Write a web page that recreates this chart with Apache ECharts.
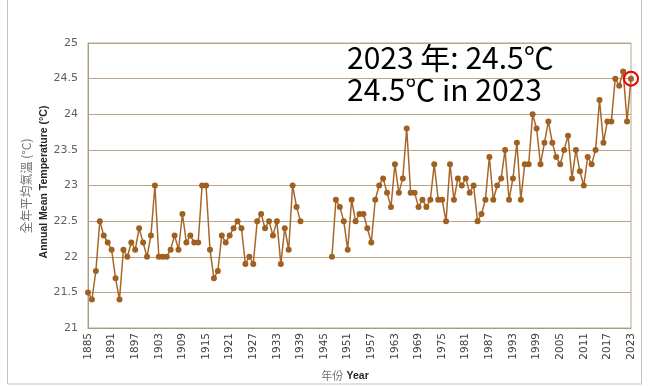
<!DOCTYPE html>
<html>
<head>
<meta charset="utf-8">
<script src="https://cdn.jsdelivr.net/npm/echarts@6/dist/echarts.min.js"></script>
<style>
  html, body { margin: 0; padding: 0; background: #fff; }
  #chart { width: 649px; height: 386px; }
</style>
</head>
<body>
<div id="chart"></div>
<script>
// Annual mean temperature, 1885–2023 (no records 1940–1946)
const years = [];
for (let y = 1885; y <= 2023; y++) years.push(String(y));

const temps1885to1939 = [
  21.5, 21.4, 21.8, 22.5, 22.3, 22.2, 22.1, 21.7, 21.4, 22.1,
  22.0, 22.2, 22.1, 22.4, 22.2, 22.0, 22.3, 23.0, 22.0, 22.0,
  22.0, 22.1, 22.3, 22.1, 22.6, 22.2, 22.3, 22.2, 22.2, 23.0,
  23.0, 22.1, 21.7, 21.8, 22.3, 22.2, 22.3, 22.4, 22.5, 22.4,
  21.9, 22.0, 21.9, 22.5, 22.6, 22.4, 22.5, 22.3, 22.5, 21.9,
  22.4, 22.1, 23.0, 22.7, 22.5
];
const temps1940to1946 = [null, null, null, null, null, null, null];
const temps1947to2023 = [
  22.0, 22.8, 22.7, 22.5, 22.1, 22.8, 22.5, 22.6, 22.6, 22.4,
  22.2, 22.8, 23.0, 23.1, 22.9, 22.7, 23.3, 22.9, 23.1, 23.8,
  22.9, 22.9, 22.7, 22.8, 22.7, 22.8, 23.3, 22.8, 22.8, 22.5,
  23.3, 22.8, 23.1, 23.0, 23.1, 22.9, 23.0, 22.5, 22.6, 22.8,
  23.4, 22.8, 23.0, 23.1, 23.5, 22.8, 23.1, 23.6, 22.8, 23.3,
  23.3, 24.0, 23.8, 23.3, 23.6, 23.9, 23.6, 23.4, 23.3, 23.5,
  23.7, 23.1, 23.5, 23.2, 23.0, 23.4, 23.3, 23.5, 24.2, 23.6,
  23.9, 23.9, 24.5, 24.4, 24.6, 23.9, 24.5
];
const temps = temps1885to1939.concat(temps1940to1946, temps1947to2023);

const lastYear = years[years.length - 1];
const lastTemp = temps[temps.length - 1];

const chart = echarts.init(document.getElementById('chart'));
const gridColor = '#b8a58c';

chart.setOption({
  animation: false,
  backgroundColor: '#ffffff',
  grid: { left: 88, right: 18, top: 43, bottom: 58, show: true, borderColor: gridColor, borderWidth: 1 },
  xAxis: {
    type: 'category',
    data: years,
    boundaryGap: false,
    axisLine: { lineStyle: { color: '#a89a88' } },
    axisTick: { show: false },
    axisLabel: {
      interval: 5, rotate: 90, color: '#404040', fontSize: 10.5,
      fontFamily: 'DejaVu Sans', margin: 5
    },
    splitLine: { show: false }
  },
  yAxis: {
    type: 'value',
    min: 21, max: 25, interval: 0.5,
    axisLine: { show: true, lineStyle: { color: '#a89a88' } },
    axisTick: { show: false },
    axisLabel: { color: '#606060', fontSize: 11, fontFamily: 'DejaVu Sans', margin: 10 },
    splitLine: { lineStyle: { color: gridColor, width: 1 } }
  },
  series: [{
    type: 'line',
    data: temps,
    connectNulls: false,
    showAllSymbol: true,
    symbol: 'circle',
    symbolSize: 6,
    lineStyle: { color: '#a8672a', width: 1.5 },
    itemStyle: { color: '#a0601f' },
    markPoint: {
      silent: true,
      symbol: 'circle',
      symbolSize: 14,
      label: { show: false },
      itemStyle: { color: 'rgba(0,0,0,0)', borderColor: '#ee0000', borderWidth: 2 },
      data: [{ coord: [lastYear, lastTemp] }]
    }
  }],
  graphic: [
    { type: 'rect', shape: { x: 7.5, y: -5, width: 634, height: 389 },
      style: { fill: 'none', stroke: '#c4c4c4', lineWidth: 1 }, silent: true },
    { type: 'text', left: 347, top: 43,
      style: { text: lastYear + ' 年: ' + lastTemp.toFixed(1) + '℃', fill: '#000',
               font: '30px "Noto Sans CJK SC", "Liberation Sans", sans-serif' } },
    { type: 'text', left: 347, top: 75,
      style: { text: lastTemp.toFixed(1) + '℃ in ' + lastYear, fill: '#000',
               font: '30px "Noto Sans CJK SC", "Liberation Sans", sans-serif' } },
    { type: 'text', x: 26, y: 186, rotation: Math.PI / 2, originX: 0, originY: 0,
      style: { text: '全年平均氣溫 (°C)', fill: '#707070', align: 'center', verticalAlign: 'middle',
               font: '12px "Noto Sans CJK TC", sans-serif' } },
    { type: 'text', x: 44, y: 182, rotation: Math.PI / 2, originX: 0, originY: 0,
      style: { text: 'Annual Mean Temperature (°C)', fill: '#262626', align: 'center', verticalAlign: 'middle',
               font: 'bold 10.5px "Liberation Sans", sans-serif' } },
    { type: 'text', x: 345, y: 376,
      style: { text: '{zh|年份} {en|Year}', align: 'center', verticalAlign: 'middle',
               rich: {
                 zh: { fill: '#707070', font: '11px "Noto Sans CJK TC", sans-serif' },
                 en: { fill: '#262626', font: 'bold 10.5px "Liberation Sans", sans-serif' }
               } } }
  ]
});
</script>
</body>
</html>
